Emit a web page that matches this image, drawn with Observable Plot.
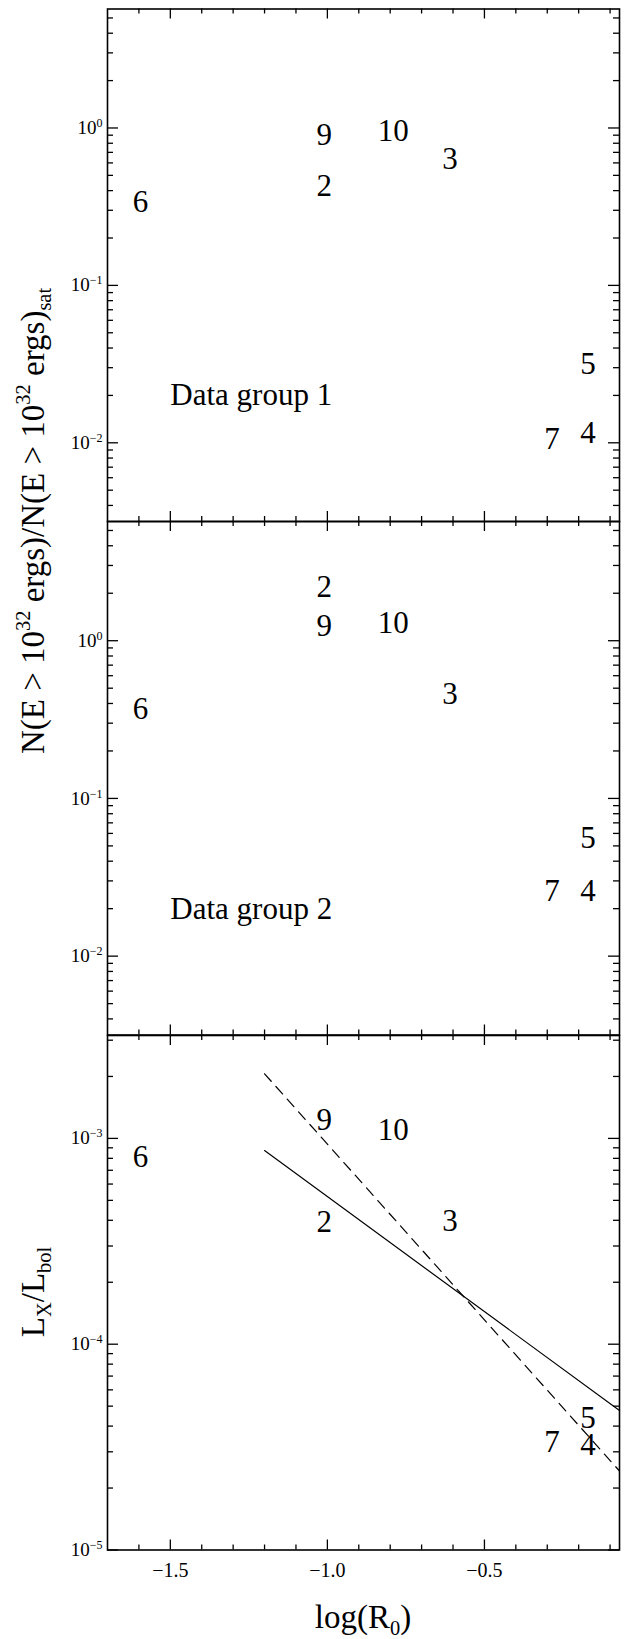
<!DOCTYPE html>
<html><head><meta charset="utf-8">
<script src="https://cdn.jsdelivr.net/npm/d3@7"></script>
<script src="https://cdn.jsdelivr.net/npm/@observablehq/plot@0.6"></script>
<style>
body{margin:0;background:#fff;}
#chart{position:relative;width:625px;height:1639px;background:#fff;font-family:"Liberation Serif",serif;overflow:hidden;}
#chart svg{position:absolute;left:0;overflow:visible;}
</style></head><body><div id="chart"></div>
<script>
// ---- data ----
const stars   = ["2", "3", "4", "5", "6", "7", "9", "10"];
const logR0   = [-1.01, -0.61, -0.17, -0.17, -1.595, -0.285, -1.01, -0.79];
const group1  = [0.43, 0.63, 0.0115, 0.0316, 0.34, 0.0106, 0.90, 0.96];
const group2  = [2.19, 0.457, 0.0257, 0.056, 0.37, 0.0257, 1.24, 1.30];
const lxLbol  = [3.92e-4, 3.95e-4, 3.23e-5, 4.36e-5, 8.1e-4, 3.36e-5, 1.23e-3, 1.10e-3];
const fitX      = [-1.2, -0.07];
const fitSolid  = [8.73e-4, 4.76e-5];
const fitDashed = [2.06e-3, 2.42e-5];
const groupLabels = ["Data group 1", "Data group 2"];
const groupLabelX = -1.5;
const groupLabelY = 0.02;
const xMajorTicks = [-1.5, -1.0, -0.5];
const xMinorTicks = [-1.6, -1.4, -1.3, -1.2, -1.1, -0.9, -0.8, -0.7, -0.6, -0.4, -0.3, -0.2, -0.1];
const xDomain = [-1.7, -0.07];
const yDomainN = [Math.pow(10, -2.5), 5.7];
const yDomainL = [1e-5, Math.pow(10, -2.5)];
const yMajorN = [1, 0.1, 0.01];
const yMajorL = [1e-3, 1e-4, 1e-5];
const mantissas = [2, 3, 4, 5, 6, 7, 8, 9];
const decadesN = [1e-3, 1e-2, 1e-1, 1];
const decadesL = [1e-5, 1e-4, 1e-3];

const FONT = "Liberation Serif";
const chart = document.getElementById("chart");
const IW = 512; // inner width
const minorFrom = (decs, dom) => decs.flatMap(d => mantissas.map(m => m * d)).filter(v => v > dom[0] * 1.0001 && v < dom[1] * 0.9999);
const fmtX = d => (d < 0 ? "\u2212" : "") + Math.abs(d).toFixed(1);

function rows(ys) { return stars.map((s, i) => ({s, x: logR0[i], y: ys[i]})); }

function makePanel({top, mt, mb, inner, yDomain, yMajor, yMinor, extra, xLabels}) {
  const ih = inner;
  const marks = [
    Plot.frame({strokeWidth: 1.6}),
    Plot.ruleY(yMajor, {y: d => d, insetRight: IW - 11, strokeWidth: 1.3}),
    Plot.ruleY(yMajor, {y: d => d, insetLeft: IW - 11, strokeWidth: 1.3}),
    Plot.ruleY(yMinor, {y: d => d, insetRight: IW - 6, strokeWidth: 1.3}),
    Plot.ruleY(yMinor, {y: d => d, insetLeft: IW - 6, strokeWidth: 1.3}),
    Plot.ruleX(xMajorTicks, {x: d => d, insetBottom: ih - 10, strokeWidth: 1.3}),
    Plot.ruleX(xMajorTicks, {x: d => d, insetTop: ih - 10, strokeWidth: 1.3}),
    Plot.ruleX(xMinorTicks, {x: d => d, insetBottom: ih - 5, strokeWidth: 1.3}),
    Plot.ruleX(xMinorTicks, {x: d => d, insetTop: ih - 5, strokeWidth: 1.3}),
    Plot.axisY(yMajor, {tickSize: 0, tickPadding: 5, fontSize: 19, label: null,
      tickFormat: d => "10^" + Math.round(Math.log10(d))}),
    ...extra
  ];
  if (xLabels) marks.push(Plot.axisX(xMajorTicks, {anchor: "bottom", tickSize: 0, tickPadding: 13, fontSize: 20, label: null, tickFormat: fmtX}));
  const svg = Plot.plot({
    width: 625, height: mt + inner + mb,
    marginLeft: 107, marginRight: 6, marginTop: mt, marginBottom: mb,
    x: {domain: xDomain, axis: null},
    y: {type: "log", domain: yDomain, axis: null},
    style: {background: "transparent", fontFamily: FONT, color: "black", overflow: "visible"},
    marks
  });
  svg.style.top = top + "px";
  svg.querySelectorAll('g[aria-label="y-axis tick label"] text').forEach(t => {
    const s = t.textContent;
    if (!s.includes("^")) return;
    const [b, e] = s.split("^");
    t.textContent = "";
    const t1 = document.createElementNS("http://www.w3.org/2000/svg", "tspan");
    t1.textContent = b;
    const t2 = document.createElementNS("http://www.w3.org/2000/svg", "tspan");
    t2.textContent = e.replace("-", "\u2212");
    t2.setAttribute("dy", "-7");
    t2.setAttribute("font-size", "12");
    t.appendChild(t1); t.appendChild(t2);
  });
  chart.appendChild(svg);
}

const textOpts = {x: "x", y: "y", text: "s", fontSize: 31, fontFamily: FONT, textAnchor: "middle", lineAnchor: "middle", fill: "black"};
const groupText = lbl => Plot.text([{x: groupLabelX, y: groupLabelY, t: lbl}], {x: "x", y: "y", text: "t", fontSize: 31, fontFamily: FONT, textAnchor: "start", lineAnchor: "middle", fill: "black"});

makePanel({top: 0, mt: 8.5, mb: 4, inner: 512.5, yDomain: yDomainN, yMajor: yMajorN,
  yMinor: minorFrom(decadesN, yDomainN),
  extra: [Plot.text(rows(group1), textOpts), groupText(groupLabels[0])]});
makePanel({top: 517, mt: 4, mb: 4, inner: 513.5, yDomain: yDomainN, yMajor: yMajorN,
  yMinor: minorFrom(decadesN, yDomainN),
  extra: [Plot.text(rows(group2), textOpts), groupText(groupLabels[1])]});
const fitRows = fitX.map((x, i) => ({x, solid: fitSolid[i], dashed: fitDashed[i]}));
makePanel({top: 1030.5, mt: 4, mb: 60, inner: 514.5, yDomain: yDomainL, yMajor: yMajorL,
  yMinor: minorFrom(decadesL, yDomainL), xLabels: true,
  extra: [
    Plot.line(fitRows, {x: "x", y: "solid", stroke: "black", strokeWidth: 1.2}),
    Plot.line(fitRows, {x: "x", y: "dashed", stroke: "black", strokeWidth: 1.2, strokeDasharray: "10,7"}),
    Plot.text(rows(lxLbol), textOpts)
  ]});

// ---- axis titles (rich text with sub/superscripts) ----
const ov = d3.select(chart).append("svg").attr("width", 625).attr("height", 1639)
  .style("top", "0px").style("pointer-events", "none")
  .attr("font-family", FONT).attr("fill", "black");
function rich(g, parts, size) {
  const t = g.append("text").attr("font-size", size).attr("text-anchor", "middle");
  let shift = 0;
  for (const [s, kind] of parts) {
    const target = kind === "sup" ? -0.42 * size : kind === "sub" ? 0.22 * size : 0;
    const sp = t.append("tspan").text(s).attr("dy", target - shift);
    if (kind !== "n") sp.attr("font-size", size * 0.62);
    shift = target;
  }
  return t;
}
rich(ov.append("g").attr("transform", "translate(44,521) rotate(-90)"),
  [["N(E > 10", "n"], ["32", "sup"], [" ergs)/N(E > 10", "n"], ["32", "sup"], [" ergs)", "n"], ["sat", "sub"]], 33);
rich(ov.append("g").attr("transform", "translate(44,1292) rotate(-90)"),
  [["L", "n"], ["X", "sub"], ["/L", "n"], ["bol", "sub"]], 33);
rich(ov.append("g").attr("transform", "translate(363,1628)"),
  [["log(R", "n"], ["0", "sub"], [")", "n"]], 33);
</script></body></html>
